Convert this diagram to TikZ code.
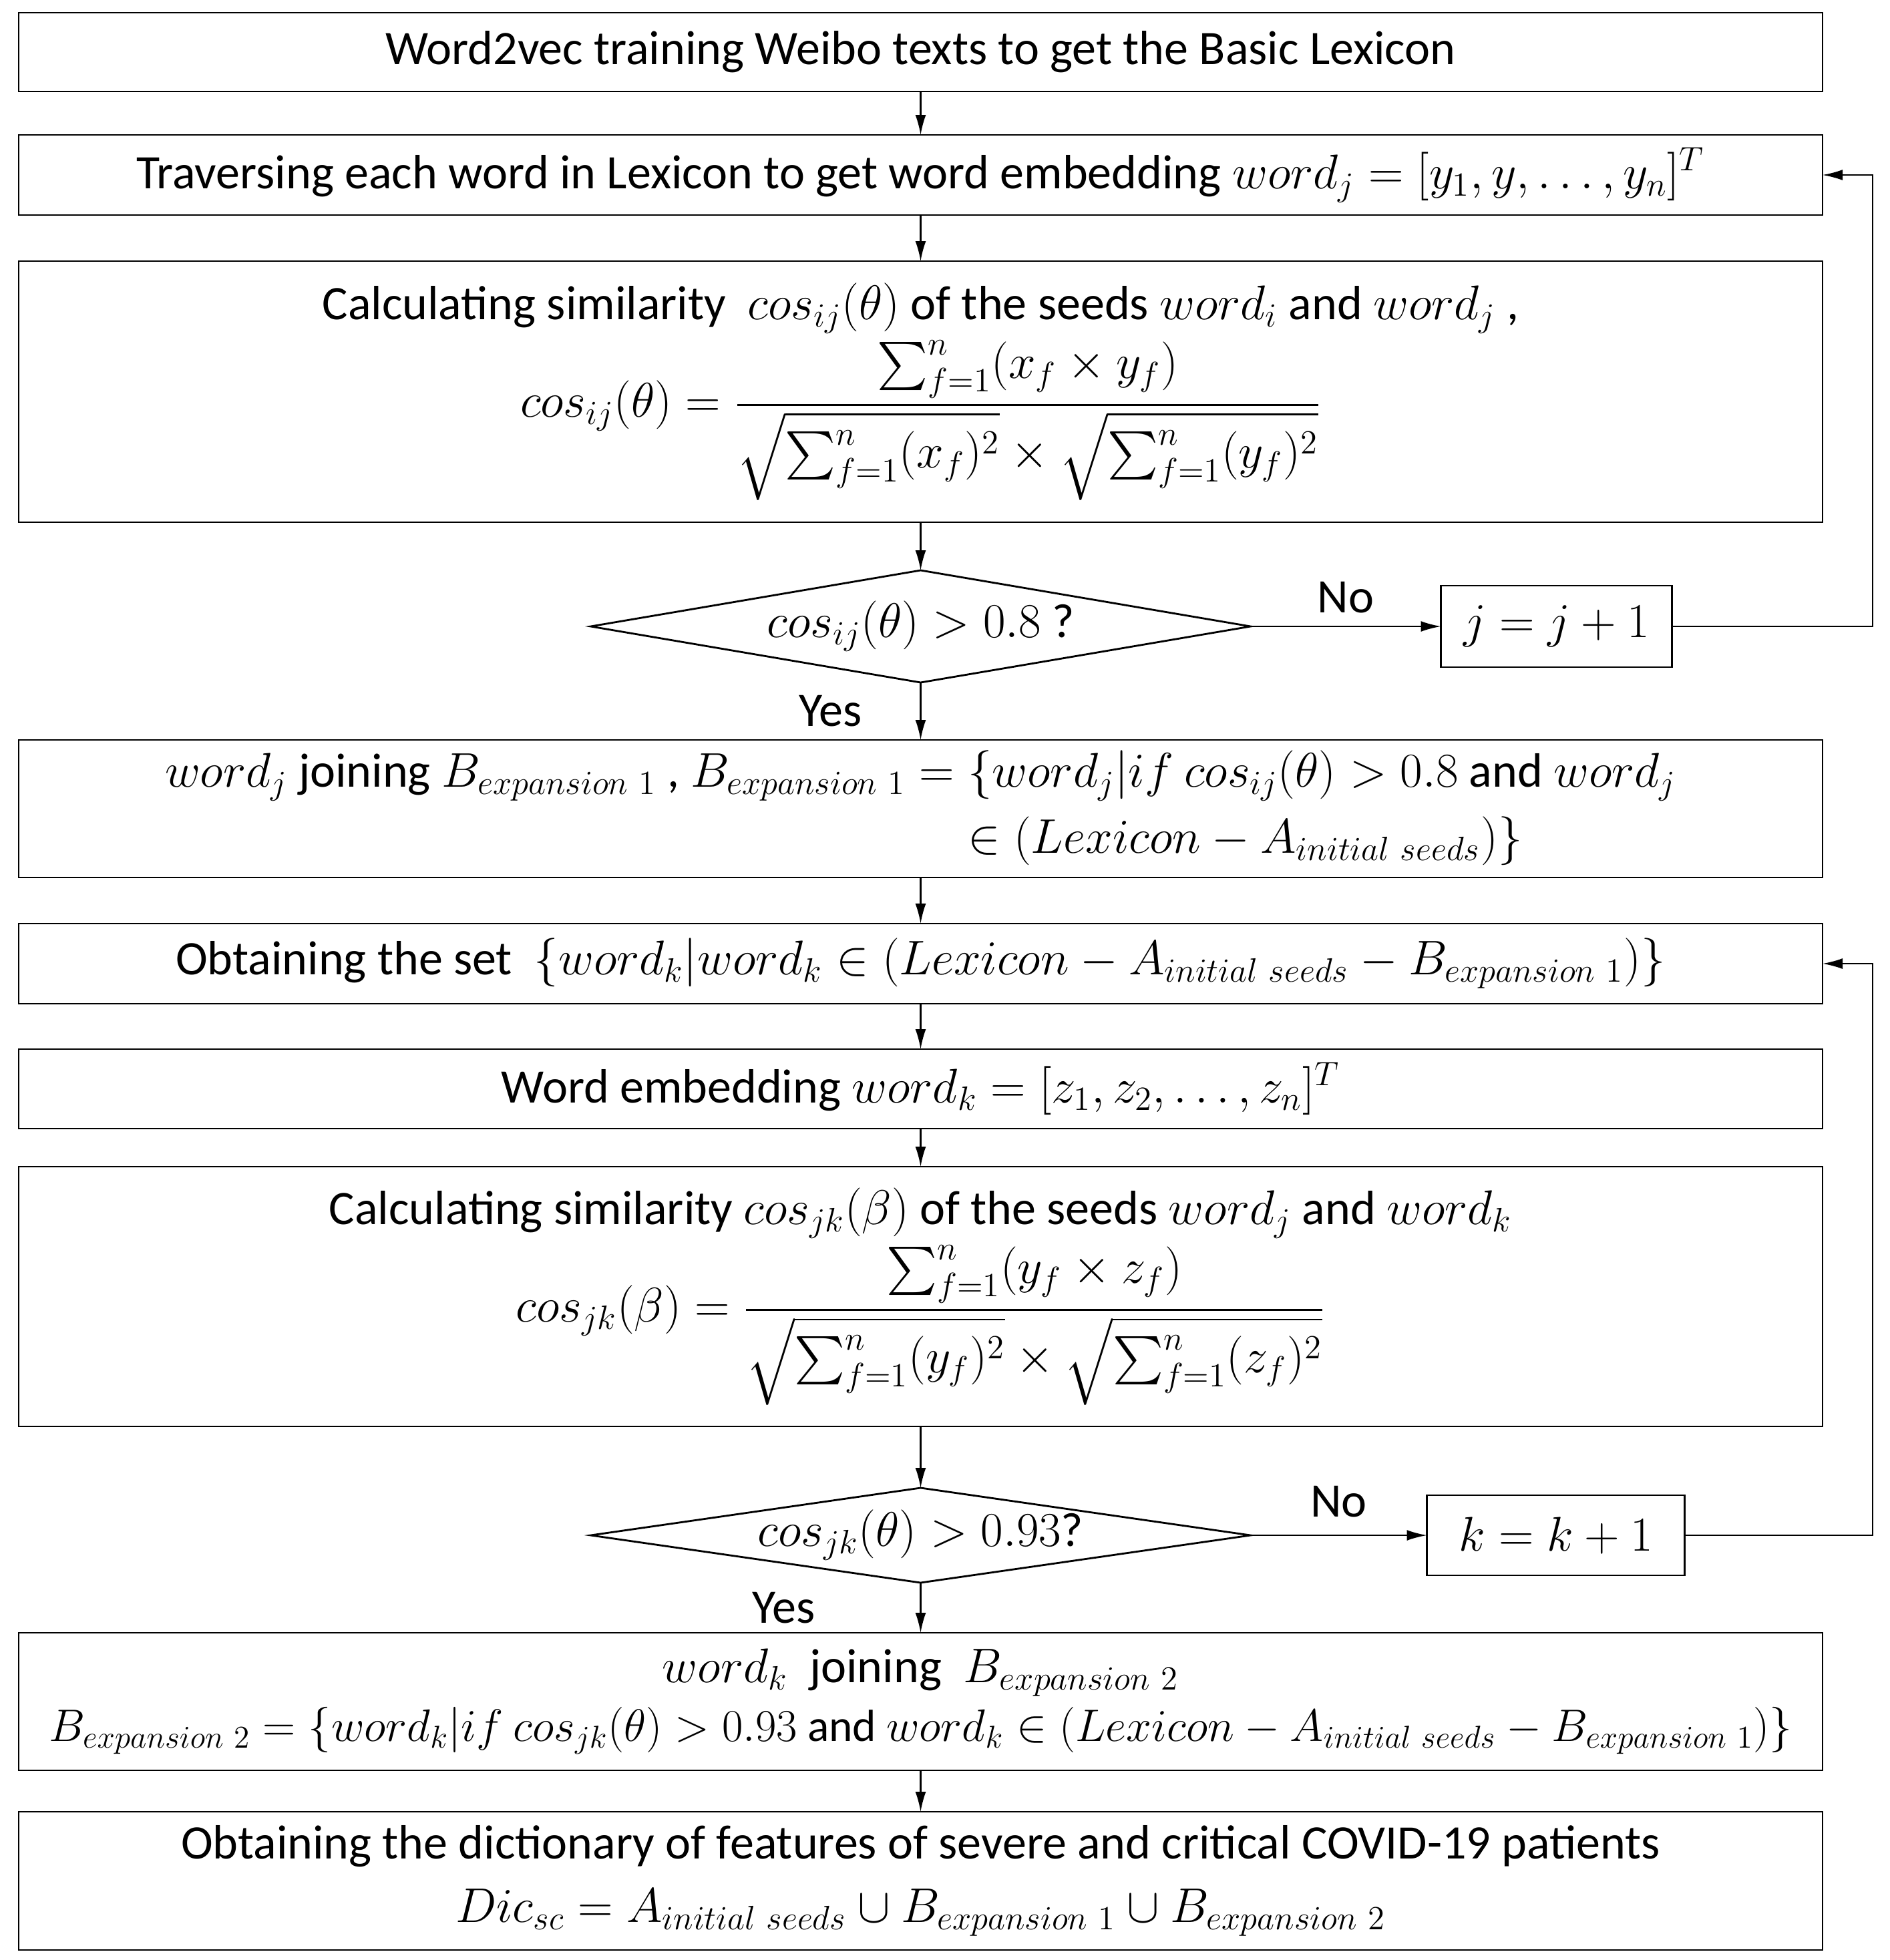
\documentclass[tikz,border=0pt]{standalone}
\usepackage{amsmath,amssymb}
\usepackage{graphicx}
\usepackage{fontspec}
\setmainfont{Carlito}
\usepackage{tikz}
\usetikzlibrary{positioning,shapes.geometric,arrows.meta}
\newcommand{\Bexp}[1]{B_{expansion\ #1}}
\newcommand{\Aini}{A_{initial\ seeds}}

\begin{document}
\begin{tikzpicture}[>={Latex[length=3mm,width=1.6mm]}, font=\fontsize{20.5}{25}\selectfont,
  box/.style={draw, thick, outer sep=0pt, minimum width=27.01cm, align=center, inner sep=4pt},
  test/.style={draw, thick, outer sep=0pt, diamond, aspect=1, minimum width=9.88cm, inner sep=0pt},
  counter/.style={draw, thick, outer sep=0pt, inner sep=2pt},
  flow/.style={->, semithick}]
\useasboundingbox (0,0) rectangle (28.30,-29.35);
\node[box, minimum height=1.18cm] (base) at (13.785,-0.78)
  {Word2vec training Weibo texts to get the Basic Lexicon};
\node[box, minimum height=1.20cm, below=0.65cm of base] (trav)
  {Traversing each word in Lexicon to get word embedding $word_j = [y_1, y, \dots, y_n]^T$};
\node[box, minimum height=3.91cm, below=0.69cm of trav] (simij)
  {Calculating similarity \ $cos_{ij}(\theta)$ of the seeds $word_i$ and $word_j$ ,\\[2pt]
   $cos_{ij}(\theta) = \dfrac{\sum_{f=1}^{n}(x_f \times y_f)}{\sqrt{\sum_{f=1}^{n}(x_f)^2} \times \sqrt{\sum_{f=1}^{n}(y_f)^2}}$};
\node[test, minimum height=1.68cm, below=0.72cm of simij] (testij)
  {\makebox[0pt]{$cos_{ij}(\theta) > 0.8$ ?}};
\node[counter, minimum width=3.46cm, minimum height=1.22cm, right=2.85cm of testij] (incj)
  {$j = j + 1$};
\node[box, minimum height=2.06cm, below=0.86cm of testij, align=left] (expa)
  {$word_j$ joining $\Bexp{1}$ , $\Bexp{1} = \{word_j | if\ cos_{ij}(\theta) > 0.8$ and $word_j$\\[3pt]
   \phantom{$word_j$ joining $\Bexp{1}$ , $\Bexp{1} = {}$}$\in (Lexicon - \Aini)\}$};
\node[box, minimum height=1.20cm, below=0.69cm of expa] (rest)
  {Obtaining the set \ $\{word_k | word_k \in \left(Lexicon - \Aini - \Bexp{1}\right)\}$};
\node[box, minimum height=1.19cm, below=0.68cm of rest] (embk)
  {Word embedding $word_k = [z_1, z_2, \dots, z_n]^T$};
\node[box, minimum height=3.89cm, below=0.57cm of embk] (simjk)
  {Calculating similarity $cos_{jk}(\beta)$ of the seeds $word_j$ and $word_k$\\[2pt]
   $cos_{jk}(\beta) = \dfrac{\sum_{f=1}^{n}(y_f \times z_f)}{\sqrt{\sum_{f=1}^{n}(y_f)^2} \times \sqrt{\sum_{f=1}^{n}(z_f)^2}}$};
\node[test, minimum height=1.42cm, below=0.92cm of simjk] (testjk)
  {\makebox[0pt]{$cos_{jk}(\theta) > 0.93$?}};
\node[counter, minimum width=3.86cm, minimum height=1.20cm, right=2.64cm of testjk] (inck)
  {$k = k + 1$};
\node[box, minimum height=2.06cm, below=0.75cm of testjk] (expb)
  {$word_k$ \ joining \ $\Bexp{2}$\\[0pt]
   \resizebox{26.1cm}{!}{$\Bexp{2} = \left\{word_k \middle| if\ cos_{jk}(\theta) > 0.93 \text{ and } word_k \in \left(Lexicon - \Aini - \Bexp{1}\right)\right\}$}};
\node[box, minimum height=2.07cm, below=0.62cm of expb] (dict)
  {Obtaining the dictionary of features of severe and critical COVID-19 patients\\[2pt]
   $Dic_{sc} = \Aini \cup \Bexp{1} \cup \Bexp{2}$};
\coordinate (loop) at (28.04,0);
\draw[flow] (base) -- (trav);
\draw[flow] (trav) -- (simij);
\draw[flow] (simij) -- (testij);
\draw[flow] (testij) -- node[above=2pt] {No} (incj);
\draw[flow] (testij) -- node[left=0.75cm] {Yes} (expa);
\draw[flow] (incj) -- (incj -| loop) |- (trav);
\draw[flow] (expa) -- (rest);
\draw[flow] (rest) -- (embk);
\draw[flow] (embk) -- (simjk);
\draw[flow] (simjk) -- (testjk);
\draw[flow] (testjk) -- node[above=4pt] {No} (inck);
\draw[flow] (testjk) -- node[left=1.45cm] {Yes} (expb);
\draw[flow] (inck) -- (inck -| loop) |- (rest);
\draw[flow] (expb) -- (dict);
\end{tikzpicture}
\end{document}
